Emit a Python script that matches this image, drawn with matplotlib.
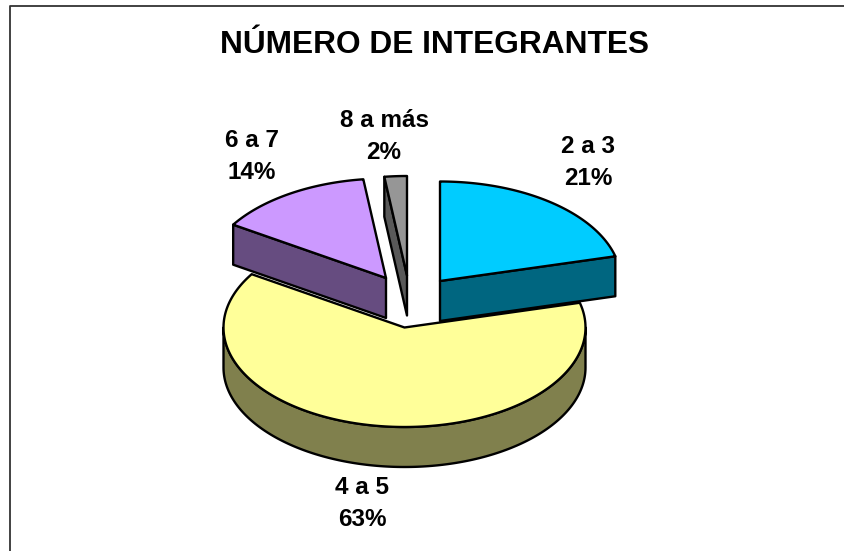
"""Exploded 3D style pie: NÚMERO DE INTEGRANTES."""

import matplotlib

matplotlib.use("Agg")
import matplotlib.pyplot as plt
import numpy as np
from matplotlib.patches import Polygon

CATEGORIES = ["2 a 3", "4 a 5", "6 a 7", "8 a más"]
PERCENTS = [21, 63, 14, 2]

TOP_COLORS = ["#00CCFF", "#FFFF99", "#CC99FF", "#969696"]
WALL_COLORS = ["#006680", "#80804D", "#664C80", "#595959"]

# layout in pixels of the 844x551 canvas, baseline of the lower label line
APEX = [(440, 281), (404.5, 327.5), (386, 278), (407, 275.5)]
LABEL_POS = [(588, 185), (362, 526), (252, 179), (384, 159)]
RX, RY, DEPTH = 181, 99.5, 40
LW = 1.7

plt.rcParams["font.family"] = ["Liberation Sans", "DejaVu Sans"]
fig = plt.figure(figsize=(8.44, 5.51), dpi=100)
ax = fig.add_axes([0, 0, 1, 1])
ax.set_xlim(0, 844)
ax.set_ylim(551, 0)
ax.axis("off")


def rim(apex, a0, a1, drop=0):
    # points of the ellipse rim, angles in degrees clockwise from 12 o'clock
    a = np.radians(np.linspace(a0, a1, 200))
    return np.column_stack([apex[0] + RX * np.sin(a), apex[1] - RY * np.cos(a) + drop])


def add_poly(pts, color, z):
    ax.add_patch(Polygon(pts, closed=True, facecolor=color, edgecolor="black",
                         linewidth=LW, joinstyle="round", zorder=z))


edges = np.cumsum([0] + PERCENTS) * 3.6
starts, ends = edges[:-1], edges[1:]

# grey slice, wall on its left edge
apex = APEX[3]
p = rim(apex, starts[3], starts[3], 0)[0]
add_poly([apex, p, (p[0], p[1] + DEPTH), (apex[0], apex[1] + DEPTH)], WALL_COLORS[3], 1)
add_poly(np.vstack([[apex], rim(apex, starts[3], ends[3])]), TOP_COLORS[3], 2)

# yellow slice, curved front wall
apex = APEX[1]
add_poly(np.vstack([rim(apex, 90, 270), rim(apex, 270, 90, DEPTH)]), WALL_COLORS[1], 3)
add_poly(np.vstack([[apex], rim(apex, starts[1], ends[1])]), TOP_COLORS[1], 4)

# purple slice, wall on its first edge
apex = APEX[2]
p = rim(apex, starts[2], starts[2])[0]
add_poly([apex, p, (p[0], p[1] + DEPTH), (apex[0], apex[1] + DEPTH)], WALL_COLORS[2], 5)
add_poly(np.vstack([[apex], rim(apex, starts[2], ends[2])]), TOP_COLORS[2], 6)

# blue slice, wall on its last edge
apex = APEX[0]
p = rim(apex, ends[0], ends[0])[0]
add_poly([apex, p, (p[0], p[1] + DEPTH), (apex[0], apex[1] + DEPTH)], WALL_COLORS[0], 7)
add_poly(np.vstack([[apex], rim(apex, starts[0], ends[0])]), TOP_COLORS[0], 8)

for cat, pct, (x, y) in zip(CATEGORIES, PERCENTS, LABEL_POS):
    ax.text(x, y, f"{cat}\n{pct}%", ha="center", va="baseline", multialignment="center",
            fontsize=17.5, fontweight="bold", linespacing=1.5, zorder=10)

ax.text(435, 53, "NÚMERO DE INTEGRANTES", ha="center", va="baseline",
        fontsize=22.8, fontweight="bold", zorder=10)

# chart frame, only the top and left sides are in the picture
ax.plot([9.5, 9.5, 844], [551, 5.5, 5.5], color="#333333", lw=1.3, zorder=11)

fig.savefig("out.png", dpi=100)
plt.close(fig)
